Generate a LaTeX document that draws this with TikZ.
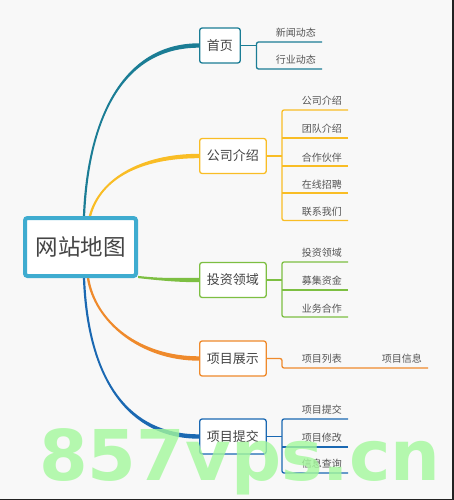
\documentclass[tikz,border=0pt]{standalone}
\usepackage{fontspec}
\setmainfont{Noto Sans CJK SC}
\newfontfamily\wmfont{DejaVu Sans}
\usetikzlibrary{calc}
\definecolor{bg}{HTML}{F8F8F8}
\definecolor{cteal}{HTML}{1B7D95}
\definecolor{cyel}{HTML}{F9BD25}
\definecolor{cgreen}{HTML}{7DBF42}
\definecolor{corange}{HTML}{EF8A2C}
\definecolor{cblue}{HTML}{1A68B2}
\definecolor{ccentral}{HTML}{3FACD0}
\definecolor{ctext}{HTML}{444444}
\definecolor{csub}{HTML}{555555}
\definecolor{wm}{HTML}{A4F89C}
\definecolor{edge}{HTML}{222222}
\pgfdeclarelayer{bglayer}
\pgfsetlayers{bglayer,main}
% #1 colour, #2 start, #3 control 1, #4 control 2, #5 end, #6 half-width offset at start
\newcommand\taperbranch[6]{%
  \fill[#1] ($(#2)-(#6)$) .. controls ($(#3)-(#6)$) and ($(#4)+(0,-2.2)$) .. ($(#5)+(0,-2.2)$)
    -- ($(#5)+(0,2.2)$) .. controls ($(#4)+(0,2.2)$) and ($(#3)+(#6)$) .. ($(#2)+(#6)$) -- cycle;}
\begin{document}
\begin{tikzpicture}[x=1pt,y=-1pt,
  topicbox/.style={draw=#1, line width=1.3pt, fill=white, rounded corners=2.5pt,
    minimum height=35pt, inner xsep=7.3pt, inner ysep=0pt, text=ctext,
    font=\fontsize{13}{15}\selectfont, anchor=west},
  subitem/.style={text=csub, font=\fontsize{10}{12}\selectfont, inner xsep=6pt,
    inner ysep=4pt, anchor=south east},
  subline/.style={draw=#1, line width=1.3pt, rounded corners=2pt}]
\useasboundingbox (0,0) rectangle (454,500);
\begin{pgfonlayer}{bglayer}
  \fill[bg] (0,0) rectangle (454,500);
\end{pgfonlayer}

% central node
\node (central) [draw=ccentral, line width=4pt, fill=white, rounded corners=2.5pt,
  minimum width=111pt, minimum height=58pt, inner sep=0pt, text=ctext,
  font=\fontsize{22.5}{26}\selectfont] at (80.5,247) {网站地图};

% topic boxes
\node (home)   [topicbox=cteal]   at (199,45.5)  {首页};
\node (about)  [topicbox=cyel]    at (199,156)   {公司介绍};
\node (invest) [topicbox=cgreen]  at (199,280)   {投资领域};
\node (show)   [topicbox=corange] at (199,358.5) {项目展示};
\node (submit) [topicbox=cblue]   at (199,436.5) {项目提交};

% branch start points on the central box
\coordinate (s1) at ($(central.north)+(3.5,0)$);
\coordinate (s2) at ($(central.north)+(9.5,0)$);
\coordinate (s3) at ($(central.south east)+(0,-1)$);
\coordinate (s4) at ($(central.south)+(7.5,0)$);
\coordinate (s5) at ($(central.south)+(3.5,0)$);

\begin{pgfonlayer}{bglayer}
  \taperbranch{cteal}{s1}{88,120}{122,45.5}{home.west}{1.1,0}
  \taperbranch{cyel}{s2}{100,178}{142,156}{about.west}{1.2,0}
  \taperbranch{cgreen}{s3}{165,280}{180,280}{invest.west}{0,1.1}
  \taperbranch{corange}{s4}{95,322}{140,358.5}{show.west}{-1.2,0}
  \taperbranch{cblue}{s5}{88,382}{130,436.5}{submit.west}{-1.1,0}
\end{pgfonlayer}

% sub items: 首页
\node (h1) [subitem] at (322,42) {新闻动态};
\node (h2) [subitem] at (322,69) {行业动态};
\coordinate (hb) at (256.5,45.5);
\draw[subline=cteal] (home.east) -- (hb);
\draw[subline=cteal] (h1.south east) -| (hb) |- (h2.south east);

% sub items: 公司介绍
\node (a1) [subitem] at (348,110)   {公司介绍};
\node (a2) [subitem] at (348,138)   {团队介绍};
\node (a3) [subitem] at (348,166)   {合作伙伴};
\node (a4) [subitem] at (348,193)   {在线招聘};
\node (a5) [subitem] at (348,220.5) {联系我们};
\coordinate (ab) at (282,156);
\draw[subline=cyel] (about.east) -- (ab);
\draw[subline=cyel] (a1.south east) -| (ab) |- (a5.south east);
\draw[subline=cyel] (a2.south east) -- (a2.south east -| ab);
\draw[subline=cyel] (a3.south east) -- (a3.south east -| ab);
\draw[subline=cyel] (a4.south east) -- (a4.south east -| ab);

% sub items: 投资领域
\node (i1) [subitem] at (348,262) {投资领域};
\node (i2) [subitem] at (348,290) {募集资金};
\node (i3) [subitem] at (348,317) {业务合作};
\coordinate (ib) at (282,280);
\draw[subline=cgreen] (invest.east) -- (ib);
\draw[subline=cgreen] (i1.south east) -| (ib) |- (i3.south east);
\draw[subline=cgreen] (i2.south east) -- (i2.south east -| ib);

% sub items: 项目展示
\node (p1) [subitem] at (348,368) {项目列表};
\node (p2) [subitem] at (428,368) {项目信息};
\coordinate (pb) at (282,363);
\draw[subline=corange] (show.east) -| (pb) |- (p2.south east);

% sub items: 项目提交
\node (t1) [subitem] at (348,419) {项目提交};
\node (t2) [subitem] at (348,447) {项目修改};
\node (t3) [subitem] at (348,473) {信息查询};
\coordinate (tb) at (282,436.5);
\draw[subline=cblue] (submit.east) -- (tb);
\draw[subline=cblue] (t1.south east) -| (tb) |- (t3.south east);
\draw[subline=cblue] (t2.south east) -- (t2.south east -| tb);

% watermark
\node (wm) [anchor=base west, inner sep=0pt, text=wm, text opacity=0.8,
  font=\wmfont\bfseries\fontsize{70}{70}\selectfont] at (39,480) {857vps.cn};

% screenshot edges
\fill[edge] (452,0) rectangle (454,500);
\fill[edge] (0,498.7) rectangle (454,500);
\end{tikzpicture}
\end{document}
